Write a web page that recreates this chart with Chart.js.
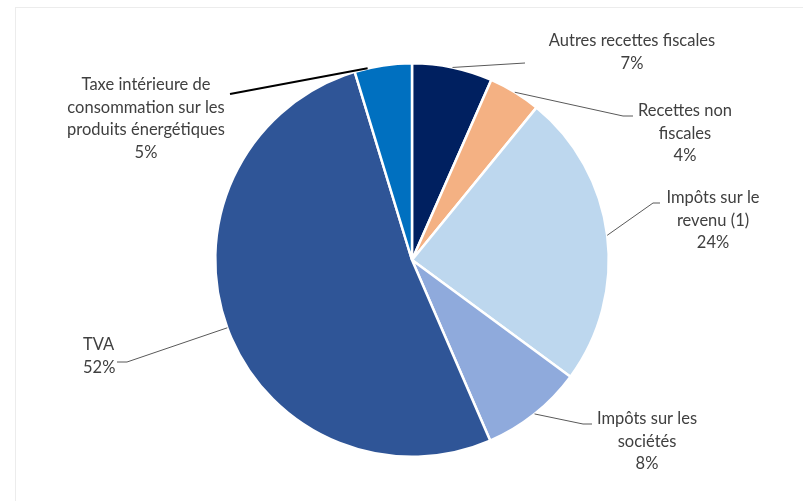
<!DOCTYPE html>
<html>
<head>
<meta charset="utf-8">
<script src="https://cdn.jsdelivr.net/npm/chart.js@4"></script>
<style>
  html, body { margin: 0; padding: 0; background: #fff; }
  #cadre { position: absolute; left: 15px; top: 7px; width: 800px; height: 500px; border-left: 1px solid #ececec; border-top: 1px solid #ececec; }
  #zone { position: absolute; left: 0; top: 0; width: 803px; height: 501px; }
</style>
</head>
<body>
<div id="cadre"></div>
<div id="zone"><canvas id="myChart" width="803" height="501"></canvas></div>
<script>
// Données du graphique
const categories = [
  ["Autres recettes fiscales"],
  ["Recettes non", "fiscales"],
  ["Impôts sur le", "revenu (1)"],
  ["Impôts sur les", "sociétés"],
  ["TVA"],
  ["Taxe intérieure de", "consommation sur les", "produits énergétiques"],
];
const valeurs = [6.6, 4.3, 24.2, 8.4, 51.8, 4.7];
const pourcentages = ["7%", "4%", "24%", "8%", "52%", "5%"];
const couleurs = ["#002060", "#F4B183", "#BDD7EE", "#8FAADC", "#2F5597", "#0070C0"];

// Position des étiquettes et des lignes de rappel
const etiquettes = [
  { x: 632, y: 41, align: "center", coude: [[525, 63]] },
  { x: 685, y: 111, align: "center", coude: [[623, 116], [633, 116]] },
  { x: 713, y: 198, align: "center", coude: [[653, 203], [660, 203]] },
  { x: 647, y: 419, align: "center", coude: [[583, 424], [592, 424]] },
  { x: 83, y: 345, align: "left", coude: [[127, 362], [117, 362]] },
  { x: 146, y: 85, align: "center", coude: [[230, 94]], couleur: "#000000", epaisseur: 2, decal: -0.08 },
];

const policeTexte = "16.5px Lato, 'Open Sans', sans-serif";
const hauteurLigne = 22.5;

const pluginEtiquettes = {
  id: "etiquettes",
  afterDatasetsDraw(chart) {
    const ctx = chart.ctx;
    const meta = chart.getDatasetMeta(0);
    meta.data.forEach((arc, i) => {
      const conf = etiquettes[i];
      const mid = (arc.startAngle + arc.endAngle) / 2 + (conf.decal || 0);
      const x0 = arc.x + Math.cos(mid) * arc.outerRadius;
      const y0 = arc.y + Math.sin(mid) * arc.outerRadius;

      // ligne de rappel
      ctx.save();
      ctx.strokeStyle = conf.couleur || "#595959";
      ctx.lineWidth = conf.epaisseur || 1;
      ctx.beginPath();
      ctx.moveTo(x0, y0);
      conf.coude.forEach((p) => ctx.lineTo(p[0], p[1]));
      ctx.stroke();

      // texte
      ctx.fillStyle = "#404040";
      ctx.font = policeTexte;
      ctx.textBaseline = "middle";
      ctx.textAlign = conf.align;
      const lignes = [...categories[i], pourcentages[i]];
      lignes.forEach((l, k) => {
        ctx.fillText(l, conf.x, conf.y + k * hauteurLigne);
      });
      ctx.restore();
    });
  },
};

const ctx = document.getElementById("myChart").getContext("2d");

new Chart(ctx, {
  type: "pie",
  data: {
    labels: categories.map((c) => c.join(" ")),
    datasets: [
      {
        data: valeurs,
        backgroundColor: couleurs,
        borderColor: "#ffffff",
        borderWidth: 2.5,
      },
    ],
  },
  options: {
    responsive: false,
    animation: false,
    layout: { padding: { left: 214, right: 193, top: 62, bottom: 43 } },
    plugins: {
      legend: { display: false },
      tooltip: { enabled: false },
    },
  },
  plugins: [pluginEtiquettes],
});
</script>
</body>
</html>
